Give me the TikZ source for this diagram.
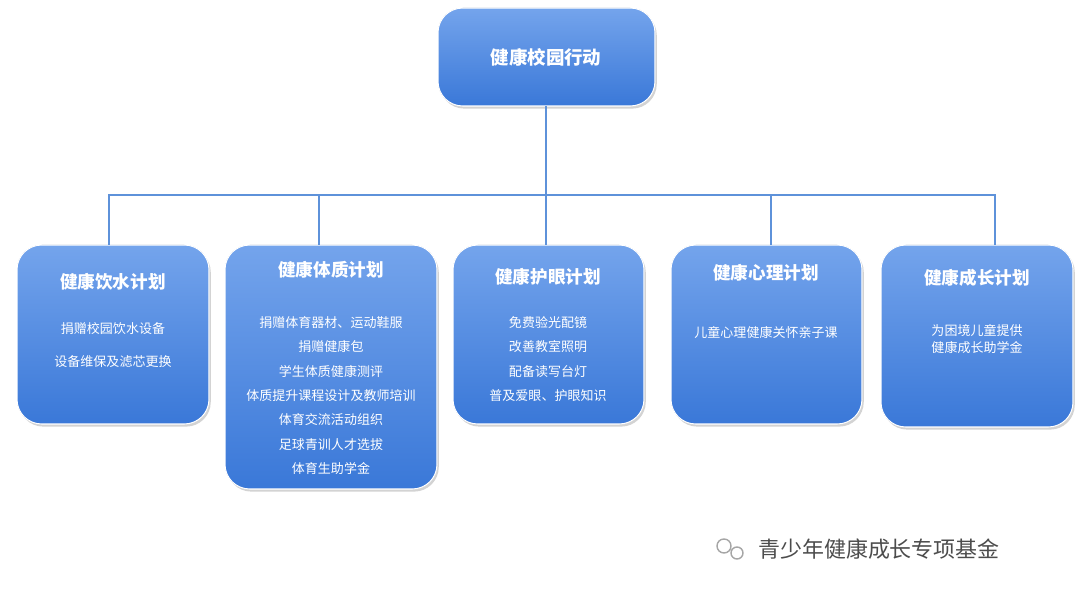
\documentclass[tikz,border=0pt]{standalone}
\usepackage{fontspec}
\setmainfont{Noto Sans CJK SC}
\usetikzlibrary{shadows}
\definecolor{boxtop}{HTML}{74A4EC}
\definecolor{boxbot}{HTML}{3A78D8}
\definecolor{linkblue}{HTML}{5E92DA}
\tikzset{
  planbox/.style={rounded corners=14pt,top color=boxtop,bottom color=boxbot,
    draw=white,line width=0.6pt,drop shadow={opacity=0.35,shadow xshift=1pt,shadow yshift=-1.5pt}},
  title/.style={text=white,font=\fontsize{10}{12}\bfseries\selectfont},
  item/.style={text=white,font=\fontsize{7.4}{13.9}\selectfont,align=center},
  link/.style={draw=linkblue,line width=0.9pt}
}
\begin{document}
\begin{tikzpicture}[x=0.02cm,y=-0.02cm]
  \useasboundingbox (0,0) rectangle (1080,597);
  % top box
  \filldraw[planbox] (438,8) rectangle (655,106);
  \node[title,font=\fontsize{10.5}{12}\bfseries\selectfont] (top) at (546,57) {健康校园行动};
  % plan boxes
  \filldraw[planbox] (17,245) rectangle (209,424);
  \filldraw[planbox] (225,245) rectangle (437,489);
  \filldraw[planbox] (453,245) rectangle (644,424);
  \filldraw[planbox] (671,245) rectangle (862,424);
  \filldraw[planbox] (881,245) rectangle (1073,427);
  \node[title] (t1) at (113,282) {健康饮水计划};
  \node[title] (t2) at (331,270) {健康体质计划};
  \node[title] (t3) at (548,277) {健康护眼计划};
  \node[title] (t4) at (766,273) {健康心理计划};
  \node[title] (t5) at (977,278) {健康成长计划};
  \node[item,anchor=north] (i1) at (113,316) {捐赠校园饮水设备\\[1.3ex]设备维保及滤芯更换};
  \node[item,anchor=north] (i2) at (331,310) {捐赠体育器材、运动鞋服\\捐赠健康包\\学生体质健康测评\\体质提升课程设计及教师培训\\体育交流活动组织\\足球青训人才选拔\\体育生助学金};
  \node[item,anchor=north] (i3) at (548,310) {免费验光配镜\\改善教室照明\\配备读写台灯\\普及爱眼、护眼知识};
  \node[item] (i4) at (766,333) {儿童心理健康关怀亲子课};
  \node[item,font=\fontsize{7.4}{9.5}\selectfont] (i5) at (977,339) {为困境儿童提供\\健康成长助学金};
  % connectors
  \coordinate (bus) at (546,195);
  \draw[link] (546,106) -- (bus);
  \draw[link] (109,245) |- (995,195) -- (995,245);
  \foreach \x in {319,546,771} \draw[link] (\x,195) -- (\x,245);
  % watermark
  \draw[gray!70,line width=0.8pt] (724,546) circle (7) (737,553) circle (6);
  \node[text=gray!60!black,font=\fontsize{12.5}{14}\selectfont,anchor=west] (mark) at (752,549) {青少年健康成长专项基金};
\end{tikzpicture}
\end{document}
